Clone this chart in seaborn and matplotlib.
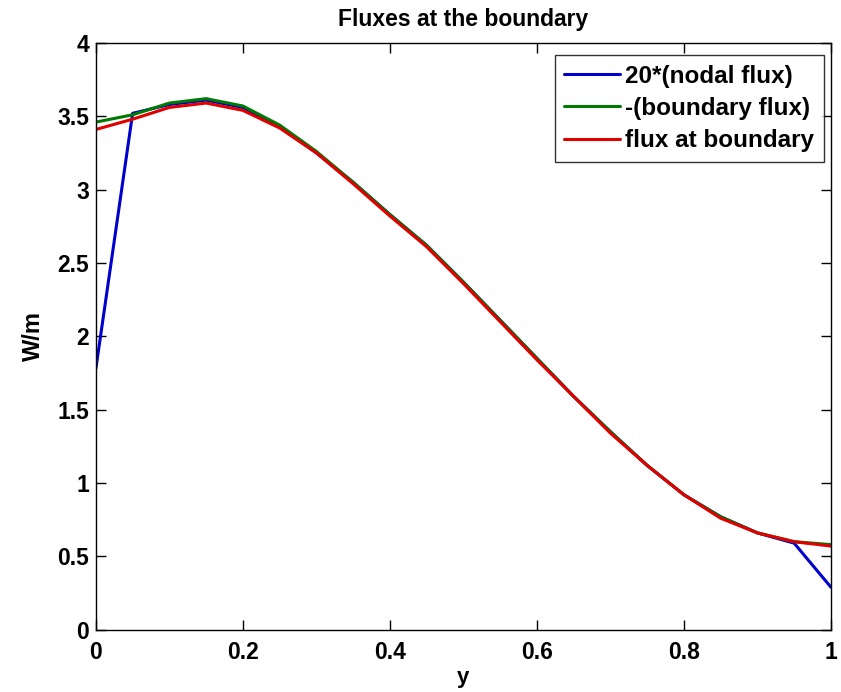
import numpy as np
import pandas as pd
import matplotlib
matplotlib.use("Agg")
import matplotlib.pyplot as plt
import seaborn as sns

# datos
y_pos = [0.0, 0.05, 0.1, 0.15, 0.2, 0.25, 0.3, 0.35, 0.4, 0.45, 0.5,
         0.55, 0.6, 0.65, 0.7, 0.75, 0.8, 0.85, 0.9, 0.95, 1.0]
nodal_flux = [1.78, 3.52, 3.58, 3.61, 3.56, 3.43, 3.25, 3.05, 2.83, 2.62, 2.37,
              2.11, 1.85, 1.59, 1.35, 1.12, 0.92, 0.77, 0.66, 0.59, 0.29]
boundary_flux = [3.46, 3.51, 3.59, 3.62, 3.57, 3.44, 3.26, 3.05, 2.83, 2.62, 2.37,
                 2.11, 1.85, 1.59, 1.35, 1.12, 0.92, 0.77, 0.66, 0.60, 0.58]
flux_at_boundary = [3.41, 3.48, 3.56, 3.59, 3.54, 3.42, 3.25, 3.04, 2.82, 2.61, 2.36,
                    2.10, 1.84, 1.59, 1.34, 1.12, 0.92, 0.76, 0.66, 0.60, 0.57]

series_names = ['20*(nodal flux)', '-(boundary flux)', 'flux at boundary']
colors = ['#0000cc', '#007a00', '#e00000']

x_ticks = [0, 0.2, 0.4, 0.6, 0.8, 1]
x_ticklabels = ['0', '0.2', '0.4', '0.6', '0.8', '1']
y_ticks = [0, 0.5, 1, 1.5, 2, 2.5, 3, 3.5, 4]
y_ticklabels = ['0', '0.5', '1', '1.5', '2', '2.5', '3', '3.5', '4']

df = pd.concat([
    pd.DataFrame({'y': y_pos, 'flux': vals, 'serie': name})
    for name, vals in zip(series_names, [nodal_flux, boundary_flux, flux_at_boundary])
])

sns.set_theme(style="white")
plt.rcParams['font.family'] = ['Liberation Sans', 'DejaVu Sans']
plt.rcParams['text.color'] = 'black'
plt.rcParams['axes.labelcolor'] = 'black'
plt.rcParams['xtick.color'] = 'black'
plt.rcParams['ytick.color'] = 'black'

fig = plt.figure(figsize=(8.41, 6.92), dpi=100)
ax = fig.add_axes([0.114, 0.090, 0.874, 0.848])

sns.lineplot(data=df, x='y', y='flux', hue='serie', hue_order=series_names,
             palette=dict(zip(series_names, colors)), estimator=None, sort=False,
             linewidth=2.2, ax=ax)

ax.set_xlim(0, 1)
ax.set_ylim(0, 4)
ax.set_xticks(x_ticks)
ax.set_xticklabels(x_ticklabels, fontsize=16.5, fontweight='bold')
ax.set_yticks(y_ticks)
ax.set_yticklabels(y_ticklabels, fontsize=16.5, fontweight='bold')
ax.tick_params(axis='x', pad=8)
ax.tick_params(axis='y', pad=5)
ax.tick_params(direction='in', length=7, width=1, color='black',
               top=True, right=True, bottom=True, left=True)
for s in ax.spines.values():
    s.set_color('black')
    s.set_linewidth(1)

ax.set_title('Fluxes at the boundary', fontsize=16.5, fontweight='bold', pad=12)
ax.set_xlabel('y', fontsize=16, fontweight='bold', labelpad=2)
ax.set_ylabel('W/m', fontsize=17, fontweight='bold', labelpad=9)

leg = ax.legend(loc='upper right', bbox_to_anchor=(1 - 7 / 735, 1 - 12 / 587),
                borderaxespad=0, fontsize=17.5, frameon=True, fancybox=False,
                handlelength=2.3, labelspacing=0.38, handletextpad=0.2,
                borderpad=0.4)
leg.get_frame().set_edgecolor('black')
leg.get_frame().set_linewidth(1)
for t in leg.get_texts():
    t.set_fontweight('bold')
    t.set_color('black')

fig.savefig('out.png', dpi=100)
